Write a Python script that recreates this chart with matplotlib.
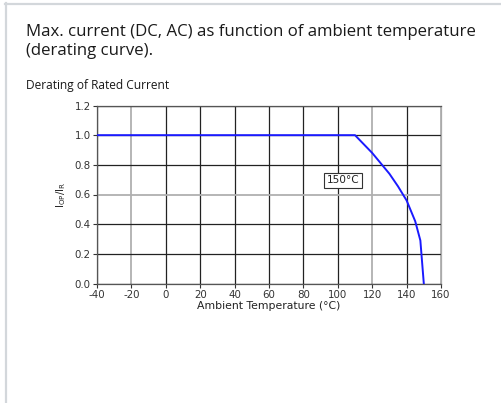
import matplotlib
matplotlib.use("Agg")
import matplotlib.pyplot as plt
from matplotlib.lines import Line2D

# Data
temps = [-40, 110, 120, 125, 130, 135, 140, 145, 148, 150]
current = [1.0, 1.0, 0.88, 0.81, 0.74, 0.655, 0.56, 0.42, 0.29, 0.0]
x_ticks = [-40, -20, 0, 20, 40, 60, 80, 100, 120, 140, 160]
y_ticks = [0.0, 0.2, 0.4, 0.6, 0.8, 1.0, 1.2]
annotation = "150°C"
annot_pos = (103, 0.695)

fig = plt.figure(figsize=(5.01, 4.03), dpi=100)
fig.patch.set_facecolor("white")

# card border (left and top)
fig.add_artist(Line2D([5.5/501, 5.5/501], [0, 1 - 3/403], color="#d3d7db", lw=1.6, transform=fig.transFigure))
fig.add_artist(Line2D([5/501, 1], [1 - 3.5/403, 1 - 3.5/403], color="#d3d7db", lw=1.6, transform=fig.transFigure))

title_font = ["Open Sans", "DejaVu Sans"]
fig.text(26/501, 1 - 36.5/403, "Max. current (DC, AC) as function of ambient temperature",
         fontsize=12.1, family=title_font, color="#1a1a1a", va="baseline", ha="left")
fig.text(26/501, 1 - 55/403, "(derating curve).",
         fontsize=12.1, family=title_font, color="#1a1a1a", va="baseline", ha="left")
fig.text(26/501, 1 - 88.5/403, "Derating of Rated Current",
         fontsize=8.6, family=title_font, color="#1a1a1a", va="baseline", ha="left")

ax = fig.add_axes([97/501, 1 - 283.5/403, 344/501, 178/403])
ax.plot(temps, current, color="#1a1aff", lw=1.4, zorder=3)
ax.set_xlim(-40, 160)
ax.set_ylim(0, 1.2)
ax.set_xticks(x_ticks)
ax.set_yticks(y_ticks)
ax.set_xticklabels([str(t) for t in x_ticks])
ax.set_yticklabels([f"{v:.1f}" for v in y_ticks])
ax.tick_params(labelsize=7.4, colors="#333333", length=3, width=0.8, pad=1.5)
ax.grid(True, color="#222222", lw=0.9)
for spine in ax.spines.values():
    spine.set_color("#555555")
    spine.set_linewidth(0.9)
ax.spines["right"].set_color("#aaaaaa")
light = "#b0b0b0"
for t, gl in zip(x_ticks, ax.get_xgridlines()):
    if t in (-20, 120, 160):
        gl.set_color(light)
        gl.set_linewidth(1.3)
for v, gl in zip(y_ticks, ax.get_ygridlines()):
    if abs(v - 0.6) < 1e-6:
        gl.set_color(light)
        gl.set_linewidth(1.3)

ax.set_xlabel("Ambient Temperature (°C)", fontsize=7.8, color="#222222", labelpad=1)
ax.set_ylabel(r"$\mathregular{I_{OP}/I_R}$", fontsize=7.4, color="#222222", labelpad=5)
ax.text(annot_pos[0], annot_pos[1], annotation, fontsize=7.6, ha="center", va="center",
        color="#222222", zorder=4,
        bbox=dict(boxstyle="square,pad=0.25", fc="white", ec="#333333", lw=0.8))

fig.savefig("out.png", dpi=100)
